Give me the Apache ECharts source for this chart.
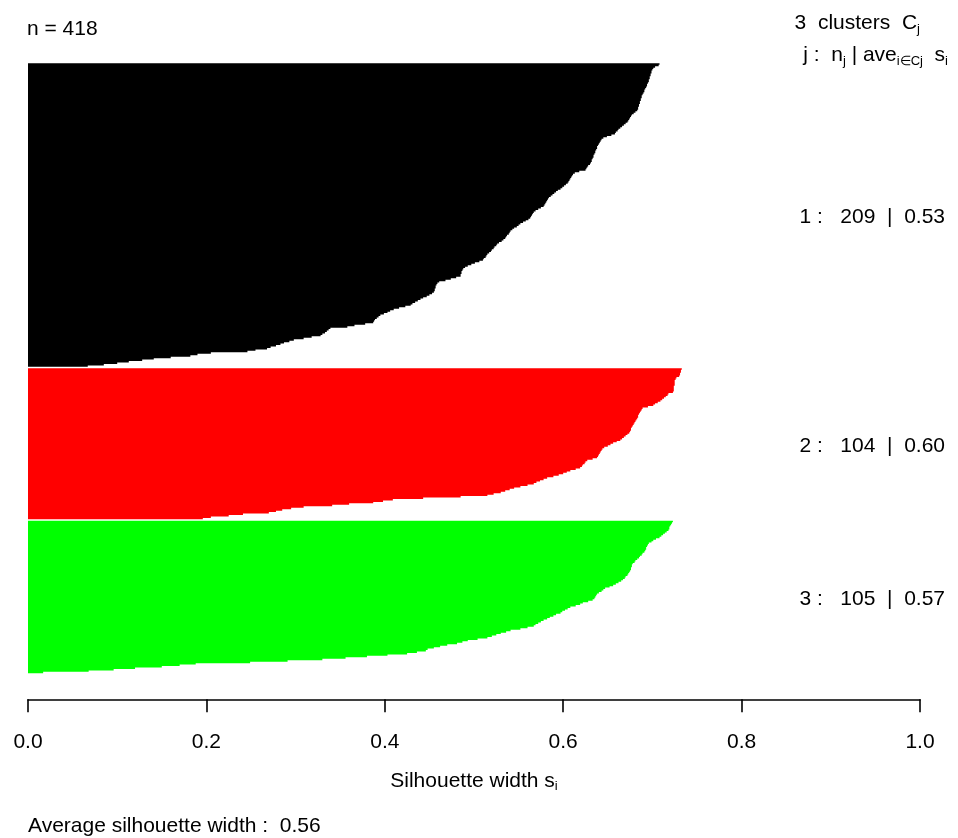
<!DOCTYPE html>
<html>
<head>
<meta charset="utf-8">
<script src="https://cdn.jsdelivr.net/npm/echarts@6/dist/echarts.min.js"></script>
<style>
html,body{margin:0;padding:0;background:#fff;}
#main{width:958px;height:838px;}
</style>
</head>
<body>
<div id="main"></div>
<script>
// Silhouette widths per cluster, sorted descending
var cluster1 = [
0.708,0.707,0.703,0.701,0.700,0.699,0.699,0.698,0.698,0.697,
0.697,0.696,0.696,0.695,0.694,0.694,0.693,0.692,0.691,0.691,
0.690,0.689,0.688,0.688,0.687,0.687,0.686,0.686,0.685,0.685,
0.684,0.684,0.683,0.681,0.679,0.677,0.676,0.675,0.674,0.673,
0.672,0.670,0.668,0.666,0.664,0.662,0.661,0.659,0.658,0.654,
0.649,0.645,0.643,0.642,0.641,0.640,0.639,0.638,0.638,0.637,
0.636,0.636,0.635,0.634,0.634,0.633,0.632,0.632,0.631,0.630,
0.628,0.627,0.626,0.625,0.618,0.613,0.611,0.610,0.609,0.608,
0.607,0.606,0.605,0.603,0.601,0.599,0.597,0.594,0.592,0.590,
0.588,0.586,0.584,0.583,0.582,0.581,0.580,0.579,0.578,0.575,
0.572,0.569,0.567,0.566,0.565,0.564,0.563,0.561,0.558,0.555,
0.552,0.550,0.548,0.545,0.543,0.541,0.540,0.539,0.537,0.536,
0.535,0.533,0.531,0.528,0.526,0.525,0.523,0.522,0.520,0.519,
0.517,0.515,0.514,0.513,0.511,0.510,0.506,0.501,0.497,0.493,
0.490,0.488,0.487,0.486,0.486,0.485,0.485,0.480,0.474,0.468,
0.461,0.459,0.458,0.457,0.457,0.456,0.456,0.455,0.453,0.450,
0.447,0.443,0.440,0.437,0.434,0.431,0.429,0.423,0.416,0.410,
0.406,0.403,0.399,0.395,0.393,0.391,0.389,0.388,0.387,0.378,
0.366,0.358,0.339,0.337,0.335,0.333,0.330,0.328,0.318,0.309,
0.298,0.293,0.287,0.283,0.278,0.272,0.268,0.255,0.246,0.205,
0.190,0.182,0.160,0.141,0.128,0.113,0.100,0.085,0.067
];
var cluster2 = [
0.733,0.732,0.732,0.731,0.731,0.730,0.727,0.726,0.725,0.725,
0.725,0.725,0.724,0.724,0.724,0.724,0.723,0.718,0.717,0.715,
0.713,0.711,0.709,0.706,0.703,0.701,0.695,0.689,0.688,0.687,
0.686,0.685,0.684,0.684,0.683,0.682,0.681,0.680,0.679,0.678,
0.677,0.676,0.676,0.675,0.674,0.672,0.670,0.668,0.666,0.664,
0.660,0.656,0.653,0.650,0.646,0.644,0.643,0.642,0.641,0.640,
0.639,0.638,0.633,0.627,0.625,0.624,0.622,0.621,0.619,0.614,
0.608,0.604,0.600,0.595,0.589,0.582,0.578,0.574,0.570,0.567,
0.560,0.552,0.545,0.540,0.535,0.530,0.522,0.515,0.485,0.443,
0.409,0.398,0.387,0.360,0.341,0.309,0.295,0.285,0.278,0.270,
0.241,0.225,0.205,0.196
];
var cluster3 = [
0.723,0.722,0.721,0.720,0.719,0.719,0.718,0.716,0.714,0.712,
0.710,0.708,0.704,0.701,0.699,0.696,0.695,0.694,0.693,0.693,
0.692,0.691,0.689,0.688,0.686,0.685,0.683,0.681,0.680,0.678,
0.677,0.677,0.676,0.676,0.675,0.674,0.673,0.672,0.670,0.669,
0.667,0.665,0.662,0.659,0.656,0.652,0.647,0.645,0.643,0.640,
0.638,0.637,0.636,0.635,0.633,0.628,0.622,0.619,0.614,0.608,
0.605,0.602,0.599,0.597,0.592,0.589,0.585,0.582,0.578,0.575,
0.572,0.569,0.567,0.560,0.552,0.541,0.536,0.530,0.525,0.520,
0.515,0.504,0.493,0.487,0.481,0.470,0.462,0.455,0.448,0.446,
0.436,0.425,0.403,0.380,0.356,0.330,0.291,0.249,0.188,0.170,
0.150,0.120,0.096,0.068,0.017
];
var clusterColors = ['#000000', '#ff0000', '#00ff00'];
var clusterSizes = ['209', '104', '105'];
var clusterAverages = ['0.53', '0.60', '0.57'];
var xTicks = [0.0, 0.2, 0.4, 0.6, 0.8, 1.0];
var totalN = '418';
var averageWidth = '0.56';

var FONT = '"Liberation Sans", Arial, sans-serif';
var FS = 21;

var clusters = [cluster1, cluster2, cluster3];
var cats = [];
var starts = [];
var midIndex = [];
clusters.forEach(function (cl, k) {
  if (k > 0) { cats.push('gap' + k); }
  var start = cats.length;
  starts.push(start);
  cl.forEach(function (v, i) { cats.push('c' + (k + 1) + '_' + i); });
  midIndex.push((start + cats.length - 1) / 2);
});
// one item per cluster; each is drawn as its staircase of bars
var clusterItems = clusters.map(function (cl, k) { return [cl[0], starts[k]]; });

var chart = echarts.init(document.getElementById('main'), null, { renderer: 'canvas' });

var subRich = {
  sub: { fontSize: 13, fontFamily: FONT, color: '#000', padding: [12, 0, 0, 0] }
};

function renderCluster(params, api) {
  var k = params.dataIndex;
  var cl = clusters[k];
  var start = starts[k];
  var band = api.size([0, 1])[1];
  var pts = [];
  var x0 = api.coord([0, start])[0];
  for (var i = 0; i < cl.length; i++) {
    var c = api.coord([cl[i], start + i]);
    pts.push([c[0], c[1] - band / 2]);
    pts.push([c[0], c[1] + band / 2]);
  }
  var last = api.coord([0, start + cl.length - 1]);
  var first = api.coord([0, start]);
  pts.push([x0, last[1] + band / 2]);
  pts.push([x0, first[1] - band / 2]);
  return {
    type: 'polygon',
    shape: { points: pts },
    style: { fill: clusterColors[k], stroke: null }
  };
}

var option = {
  animation: false,
  backgroundColor: '#ffffff',
  grid: { left: 28, right: 38, top: 63.3, bottom: 164.7, containLabel: false },
  xAxis: {
    type: 'value',
    min: 0, max: 1, interval: 0.2,
    offset: 26,
    splitLine: { show: false },
    axisLine: { show: true, lineStyle: { color: '#000', width: 1.6 } },
    axisTick: { show: true, length: 13, lineStyle: { color: '#000', width: 1.6 } },
    axisLabel: {
      margin: 32, fontSize: FS, fontFamily: FONT, color: '#000',
      formatter: function (v) { return v.toFixed(1); },
      customValues: xTicks
    },
    name: 'Silhouette width s{sub|i}',
    nameLocation: 'middle',
    nameGap: 69,
    nameTextStyle: { fontSize: FS, fontFamily: FONT, color: '#000', rich: subRich }
  },
  yAxis: {
    type: 'category',
    data: cats,
    inverse: true,
    show: false,
    boundaryGap: true
  },
  series: [{
    type: 'custom',
    renderItem: renderCluster,
    data: clusterItems,
    encode: { x: 0, y: 1 },
    silent: true,
    clip: false
  }]
};
chart.setOption(option);

var graphics = [
  { type: 'text', left: 27, top: 19, style: { text: 'n = ' + totalN, fontSize: FS, fontFamily: FONT, fill: '#000' } },
  { type: 'text', right: 38, top: 13, style: { text: '3  clusters  C{sub|j}', fontSize: FS, fontFamily: FONT, fill: '#000', rich: subRich } },
  { type: 'text', right: 10, top: 45, style: { text: 'j :  n{sub|j} | ave{sub|i\u2208Cj}  s{sub|i}', fontSize: FS, fontFamily: FONT, fill: '#000', rich: subRich } },
  { type: 'text', left: 28, top: 816, style: { text: 'Average silhouette width :  ' + averageWidth, fontSize: FS, fontFamily: FONT, fill: '#000' } }
];
midIndex.forEach(function (mi, k) {
  var y = chart.convertToPixel({ yAxisIndex: 0 }, mi);
  graphics.push({
    type: 'text', x: 945, y: y + 2,
    style: {
      text: (k + 1) + ' :   ' + clusterSizes[k] + '  |  ' + clusterAverages[k],
      fontSize: FS, fontFamily: FONT, fill: '#000', align: 'right', verticalAlign: 'middle'
    }
  });
});
chart.setOption({ graphic: graphics });
</script>
</body>
</html>
